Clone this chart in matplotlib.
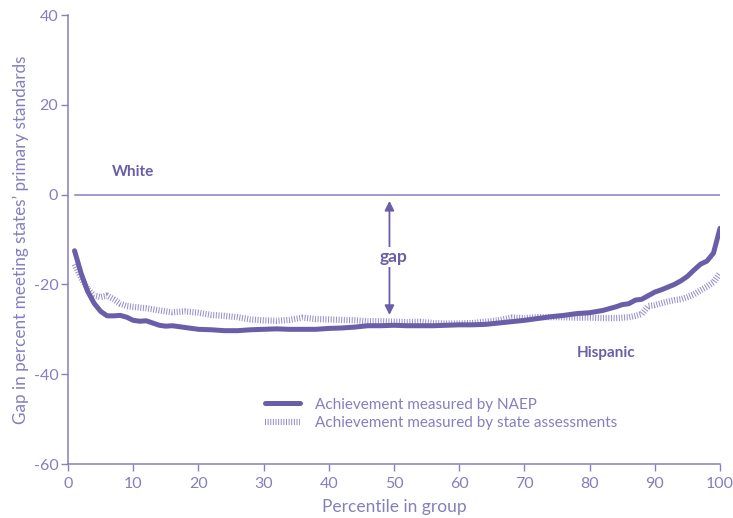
import matplotlib.pyplot as plt

# percentile positions and gaps (Hispanic minus White)
naep_pct = [1, 2, 3, 4, 5, 6, 7, 8, 9, 10, 11, 12, 13, 14, 15, 16, 18, 20, 22, 24,
            26, 28, 30, 32, 34, 36, 38, 40, 42, 44, 46, 48, 50, 52, 54, 56, 58, 60,
            62, 64, 66, 68, 70, 72, 74, 76, 78, 80, 82, 84, 85, 86, 87, 88, 89, 90,
            91, 92, 93, 94, 95, 96, 97, 98, 99, 100]
naep_gap = [-12.5, -17.5, -21.5, -24.2, -26.0, -27.0, -27.0, -26.9, -27.3, -28.0,
            -28.2, -28.1, -28.6, -29.1, -29.3, -29.2, -29.6, -30.0, -30.1, -30.3,
            -30.3, -30.1, -30.0, -29.9, -30.0, -30.0, -30.0, -29.8, -29.7, -29.5,
            -29.2, -29.2, -29.1, -29.2, -29.2, -29.2, -29.1, -29.0, -29.0, -28.9,
            -28.6, -28.3, -28.0, -27.6, -27.2, -26.9, -26.5, -26.3, -25.8, -25.0,
            -24.5, -24.3, -23.5, -23.3, -22.5, -21.7, -21.2, -20.6, -20.0, -19.2,
            -18.2, -16.8, -15.5, -14.8, -13.0, -7.5]

state_pct = [1, 2, 3, 4, 5, 6, 7, 8, 9, 10, 12, 14, 16, 18, 20, 22, 24, 26, 28, 30,
             32, 34, 36, 38, 40, 42, 44, 46, 48, 50, 52, 54, 56, 58, 60, 62, 64, 66,
             68, 70, 72, 74, 76, 78, 80, 82, 84, 86, 87, 88, 89, 90, 91, 92, 93, 94,
             95, 96, 97, 98, 99, 100]
state_gap = [-15.5, -18.5, -21.0, -22.5, -22.8, -22.5, -23.3, -24.3, -24.8, -25.0,
             -25.3, -25.8, -26.2, -26.0, -26.3, -26.8, -27.0, -27.3, -27.8, -28.0,
             -28.1, -27.9, -27.4, -27.7, -27.8, -27.9, -28.0, -28.2, -28.2, -28.3,
             -28.4, -28.3, -28.6, -28.7, -28.7, -28.6, -28.3, -28.0, -27.4, -27.5,
             -27.3, -27.3, -27.3, -27.4, -27.4, -27.5, -27.5, -27.3, -27.0, -26.6,
             -24.8, -24.6, -24.2, -23.8, -23.5, -23.3, -22.8, -22.2, -21.3, -20.5,
             -19.5, -17.5]

x_ticks = [0, 10, 20, 30, 40, 50, 60, 70, 80, 90, 100]
y_ticks = [-60, -40, -20, 0, 20, 40]

dark = '#6a5ea8'
axis_col = '#8680bf'
text_col = '#857fbd'
light = '#948dc9'

plt.rcParams['font.family'] = ['Lato', 'DejaVu Sans']
plt.rcParams['axes.unicode_minus'] = False

fig = plt.figure(figsize=(7.33, 5.18), dpi=100)
ax = fig.add_axes([0.0928, 0.1042, 0.8895, 0.8668])

# hatched look for the state line: short strokes across a wide line
ax.plot(state_pct, state_gap, color=light, lw=4.5, linestyle=(0, (0.16, 0.26)),
        solid_capstyle='butt', dash_capstyle='butt',
        label='Achievement measured by state assessments')
ax.plot(naep_pct, naep_gap, color=dark, lw=3.6, solid_capstyle='round',
        label='Achievement measured by NAEP')

# reference line for White
ax.plot([1, 100], [0, 0], color=axis_col, lw=1.1)

# gap arrow
ax.annotate('', xy=(49.3, -26.8), xytext=(49.3, -1.4),
            arrowprops=dict(arrowstyle='<|-|>', color=dark, lw=1.3,
                            mutation_scale=14, shrinkA=0, shrinkB=0))
ax.text(50.0, -13.8, 'gap', ha='center', va='center', fontsize=12.5, fontweight='bold',
        color=dark, bbox=dict(facecolor='white', edgecolor='none', pad=1.5))
ax.text(9.9, 5.0, 'White', ha='center', va='center', fontsize=11,
        fontweight='bold', color=dark)
ax.text(82.5, -35.2, 'Hispanic', ha='center', va='center', fontsize=11,
        fontweight='bold', color=dark)

ax.set_xlim(0, 100)
ax.set_ylim(-60, 40)
ax.set_xticks(x_ticks)
ax.set_yticks(y_ticks)
for s in ['top', 'right']:
    ax.spines[s].set_visible(False)
for s in ['left', 'bottom']:
    ax.spines[s].set_color(axis_col)
    ax.spines[s].set_linewidth(1.1)
ax.tick_params(colors=axis_col, labelcolor=text_col, labelsize=11.5, length=5,
               width=1.0, direction='out')
ax.tick_params(axis='x', pad=4)
ax.tick_params(axis='y', pad=2)

ax.set_xlabel('Percentile in group', fontsize=12.5, color=text_col, labelpad=6)
ax.set_ylabel("Gap in percent meeting states\u2019 primary standards", fontsize=12.3,
              color=text_col, labelpad=3)

handles, labels = ax.get_legend_handles_labels()
leg = ax.legend(handles[::-1], labels[::-1], loc='upper left',
                bbox_to_anchor=(0.302, 0.148), frameon=False, fontsize=11,
                handlelength=2.3, handletextpad=1.0, borderaxespad=0, borderpad=0,
                labelspacing=0.3)
for t in leg.get_texts():
    t.set_color(text_col)

fig.savefig('out.png', dpi=100)
